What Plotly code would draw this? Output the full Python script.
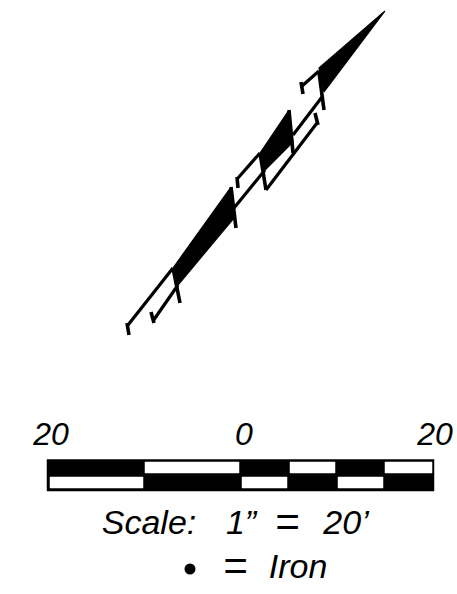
import plotly.graph_objects as go

# Geometry of the map (x, y in page units, y downward)
black_x = [[231, 234, 178, 173], [289, 293, 265, 260], [385, 324, 319]]
black_y = [[187, 218, 285, 268], [110, 142, 170, 153], [11, 92, 68]]

line_x = [[173, 128], [178, 153], [319, 302], [322, 293], [260, 238], [266, 317], [265, 234]]
line_y = [[268, 325], [285, 321], [71, 86], [97, 135], [153, 178], [190, 123], [170, 208]]

tick_x = [[173, 180], [231, 236], [319, 324], [289, 293], [260, 266],
          [127, 129], [151, 154], [301, 303], [237, 238], [315, 318]]
tick_y = [[268, 303], [187, 228], [72, 110], [110, 153], [153, 190],
          [323, 335], [312, 323], [82, 94], [177, 188], [113, 125]]

# Scale bar
bar_left, bar_right, bar_top, bar_bottom = 47, 434, 459.5, 491
white_top_x0 = [145, 290, 385]
white_top_x1 = [239, 335, 432]
white_top_y = [462, 473]
white_bot_x0 = [50, 242, 338]
white_bot_x1 = [143, 287, 383]
white_bot_y = [477, 488]

labels = ["20", "0", "20", "Scale:", "1”", "=", "20’", "=", "Iron"]
label_x = [51, 244, 435, 149, 241, 287, 346, 235, 298]
label_y = [437, 437, 437, 525, 525, 525, 525, 569, 569]
label_size = [32, 32, 32, 34, 34, 42, 34, 42, 34]
dot_x = [190]
dot_y = [569]

fig = go.Figure()


def poly(xs, ys, color, w=1.2):
    fig.add_trace(go.Scatter(x=xs + xs[:1], y=ys + ys[:1], mode="lines", fill="toself",
                             fillcolor=color, line=dict(color=color, width=w),
                             hoverinfo="skip", showlegend=False))


for xs, ys in zip(black_x, black_y):
    poly(xs, ys, "black")
for xs, ys in zip(line_x, line_y):
    fig.add_trace(go.Scatter(x=xs, y=ys, mode="lines", line=dict(color="black", width=3.2),
                             hoverinfo="skip", showlegend=False))
for xs, ys in zip(tick_x, tick_y):
    fig.add_trace(go.Scatter(x=xs, y=ys, mode="lines", line=dict(color="black", width=3.6),
                             hoverinfo="skip", showlegend=False))

poly([bar_left, bar_right, bar_right, bar_left], [bar_top, bar_top, bar_bottom, bar_bottom], "black", 0.5)
for x0, x1 in zip(white_top_x0, white_top_x1):
    poly([x0, x1, x1, x0], [white_top_y[0], white_top_y[0], white_top_y[1], white_top_y[1]], "white", 0.5)
for x0, x1 in zip(white_bot_x0, white_bot_x1):
    poly([x0, x1, x1, x0], [white_bot_y[0], white_bot_y[0], white_bot_y[1], white_bot_y[1]], "white", 0.5)

fig.add_trace(go.Scatter(x=label_x, y=label_y, mode="text", text=[f"<i>{t}</i>" for t in labels],
                         textposition="middle center",
                         textfont=dict(family="Liberation Sans", size=label_size, color="black"),
                         hoverinfo="skip", showlegend=False))
fig.add_trace(go.Scatter(x=dot_x, y=dot_y, mode="markers", marker=dict(color="black", size=11),
                         hoverinfo="skip", showlegend=False))

fig.update_xaxes(visible=False, range=[0, 457], fixedrange=True)
fig.update_yaxes(visible=False, range=[594, 0], fixedrange=True)
fig.update_layout(width=457, height=594, margin=dict(l=0, r=0, t=0, b=0),
                  plot_bgcolor="white", paper_bgcolor="white", showlegend=False)

fig.write_html("out.html", config={"displayModeBar": False},
               post_script="document.body.style.margin='0';document.documentElement.style.overflow='hidden';")
